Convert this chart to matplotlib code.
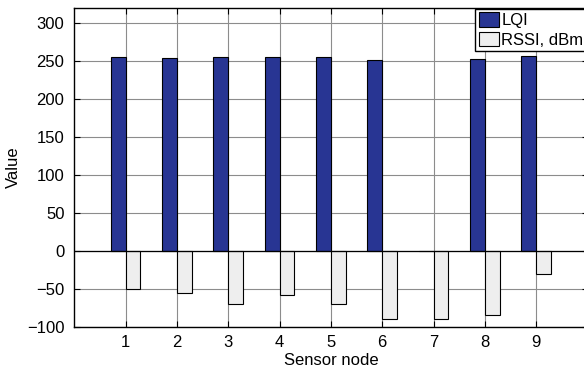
import matplotlib.pyplot as plt
import numpy as np

plt.rcParams['font.family'] = ['Liberation Sans', 'DejaVu Sans']

nodes = [1, 2, 3, 4, 5, 6, 7, 8, 9]
lqi = [255, 254, 255, 255, 255, 251, 0, 253, 256]
rssi = [-50, -56, -70, -58, -70, -90, -90, -84, -31]

fig = plt.figure(figsize=(5.84, 3.74), dpi=100)
ax = fig.add_axes([0.127, 0.126, 0.879, 0.853])

x = np.array(nodes)
w = 0.29
ax.bar(x - w / 2, lqi, width=w, color='#283593', edgecolor='black', linewidth=0.8,
       label='LQI', zorder=3)
ax.bar(x + w / 2, rssi, width=w, color='#eeeeee', edgecolor='black', linewidth=0.8,
       label='RSSI, dBm', zorder=3)
ax.axhline(0, color='black', linewidth=0.9, zorder=4)

ax.set_xlim(0, 10)
ax.set_ylim(-100, 320)
ax.set_xticks(nodes)
ax.set_yticks(range(-100, 301, 50))
ax.grid(True, color='#8c8c8c', linewidth=0.8, zorder=0)
ax.tick_params(direction='in', top=True, right=True, labelsize=12, length=4)
ax.tick_params(axis='y', pad=7)
ax.tick_params(axis='x', pad=6)
for s in ax.spines.values():
    s.set_linewidth(1.0)

ax.set_xlabel('Sensor node', fontsize=12, labelpad=2)
ax.set_ylabel('Value', fontsize=12, labelpad=4)

leg = ax.legend(loc='upper right', bbox_to_anchor=(1.0, 1.0), fontsize=12,
                frameon=True, fancybox=False, borderaxespad=0.05,
                handlelength=1.2, handleheight=1.0, handletextpad=0.15,
                labelspacing=0.2, borderpad=0.2)
leg.get_frame().set_edgecolor('black')
leg.get_frame().set_linewidth(1.0)
leg.get_frame().set_alpha(1)

fig.savefig('out.png', dpi=100)
